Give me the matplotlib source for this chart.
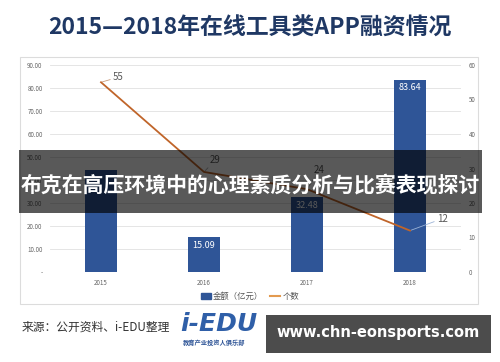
import matplotlib.pyplot as plt
from matplotlib.patches import Rectangle
from matplotlib.lines import Line2D
from matplotlib.ticker import FuncFormatter

plt.rcParams['font.family'] = ['Noto Sans CJK SC', 'DejaVu Sans']

years = ['2015', '2016', '2017', '2018']
amount = [44.3, 15.09, 32.48, 83.64]   # 金额（亿元）
count = [55, 29, 24, 12]               # 个数
amount_labels = [None, '15.09', '32.48', '83.64']

W, H = 500, 362
fig = plt.figure(figsize=(W / 100, H / 100), dpi=100)
fig.patch.set_facecolor('white')

def fx(px):
    return px / W

def fy(py):
    return 1 - py / H

# chart frame
fig.patches.append(Rectangle((fx(20), fy(304)), fx(458), 247 / H, transform=fig.transFigure,
                             fill=False, edgecolor='#dcdcdc', lw=0.8))

ax = fig.add_axes([fx(49.5), fy(272), fx(412), 207 / H])
ax2 = ax.twinx()

x = range(len(years))
ax.bar(x, amount, width=0.31, color='#2f5597', zorder=2)
for i, lab in enumerate(amount_labels):
    if lab:
        ax.text(i, amount[i] - 1.5, lab, ha='center', va='top', color='white', fontsize=6.5, zorder=3)

ax.set_xlim(-0.5, 3.5)
ax.set_ylim(0, 90)
ax.set_yticks(range(0, 91, 10))
ax.yaxis.set_major_formatter(FuncFormatter(lambda v, p: '-' if v == 0 else '%.2f' % v))
ax.set_xticks(list(x))
ax.set_xticklabels(years)
ax.grid(axis='y', color='#e0e0e0', lw=0.6, zorder=0)
ax.set_axisbelow(True)
for s in ax.spines.values():
    s.set_visible(False)
for s in ax2.spines.values():
    s.set_visible(False)
ax.tick_params(length=0, labelsize=4.5, labelcolor='#666666', pad=5)

ax2.plot(list(x), count, color='#c0652a', lw=1.3, zorder=4)
ax2.set_ylim(0, 60)
ax2.set_yticks(range(0, 61, 10))
ax2.tick_params(length=0, labelsize=4.5, labelcolor='#666666', pad=5)

offsets = [(12, 5), (6, 12), (7, 19), (27, 12)]
lead = ['#c89a7a', '#aaaaaa', '#aaaaaa', '#9bb3d6']
for i, c in enumerate(count):
    ax2.annotate(str(c), (i, c), xytext=offsets[i], textcoords='offset pixels',
                 ha='left', va='center', fontsize=7, color='#595959',
                 arrowprops=dict(arrowstyle='-', color=lead[i], lw=0.6, shrinkA=0, shrinkB=1))

handles = [Rectangle((0, 0), 1, 1, color='#2f5597'), Line2D([0], [0], color='#e39a4f', lw=1.5)]
fig.legend(handles, ['金额（亿元）', '个数'], loc='center', bbox_to_anchor=(fx(250), fy(296)),
           ncol=2, frameon=False, fontsize=6, labelcolor='#555555',
           handlelength=1.2, handleheight=0.7, handletextpad=0.3, columnspacing=0.8)

# title
fig.text(0.5, fy(28), '2015—2018年在线工具类APP融资情况', ha='center', va='center',
         fontsize=16.5, fontweight='bold', color='#1f3864')

# overlay banner
fig.patches.append(Rectangle((fx(19), fy(213)), fx(463), 63 / H, transform=fig.transFigure,
                             facecolor='black', alpha=0.65, edgecolor='none', zorder=10))
fig.text(0.5, fy(185), '布克在高压环境中的心理素质分析与比赛表现探讨', ha='center', va='center',
         fontsize=15, fontweight='bold', color='white', zorder=11)

# source and logo
fig.text(fx(22), fy(327), '来源：公开资料、i-EDU整理', ha='left', va='center',
         fontsize=8.5, color='#333333')
fig.text(fx(180), fy(324), 'i-EDU', ha='left', va='center', fontsize=18, fontweight='bold',
         fontstyle='italic', color='#2f5fa8', family='DejaVu Sans')
fig.text(fx(183), fy(342), '教育产业投资人俱乐部', ha='left', va='center', fontsize=4.5,
         fontweight='bold', color='#2f5597')

fig.patches.append(Rectangle((fx(266), fy(353)), fx(225), 38 / H, transform=fig.transFigure,
                             facecolor='black', alpha=0.7, edgecolor='none', zorder=10))
fig.text(fx(378), fy(333), 'www.chn-eonsports.com', ha='center', va='center',
         fontsize=10.5, fontweight='bold', color='white', family='DejaVu Sans', zorder=11)

fig.savefig('out.png', dpi=100)
